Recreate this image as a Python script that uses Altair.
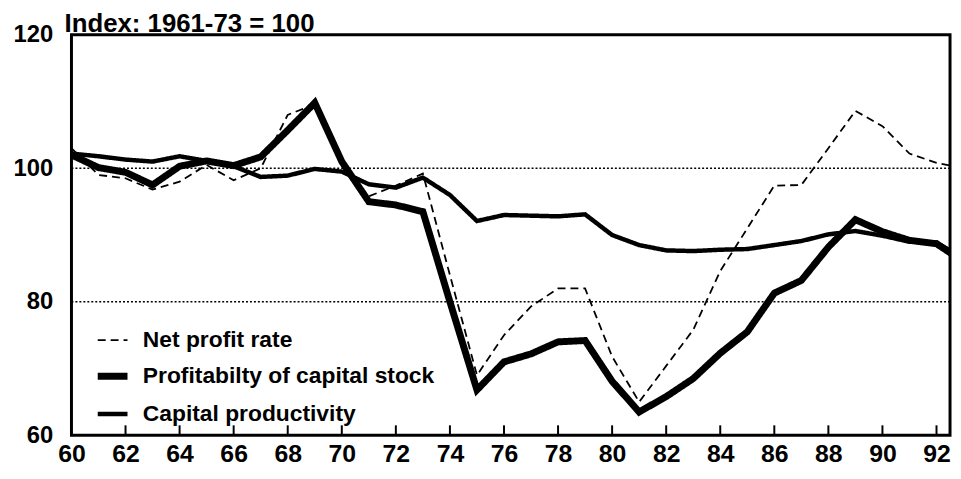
import altair as alt
import pandas as pd

years = list(range(60, 94))
net_profit = [103, 99, 98.5, 96.8, 98, 100.5, 98.2, 100, 108, 109.6, 100.5, 95.8, 97.4, 99.2,
              84, 69, 75, 79.3, 82, 82, 71.8, 65, 70.4, 75.8, 84.6, 91, 97.4, 97.5,
              103, 108.6, 106.3, 102.2, 100.8, 100]
profitability = [102, 100.1, 99.4, 97.5, 100.3, 101.1, 100.4, 101.7, 105.7, 109.8, 101, 95, 94.5, 93.5,
                 80, 66.8, 71, 72.2, 74, 74.2, 68.1, 63.5, 65.8, 68.5, 72.3, 75.5, 81.3, 83.2,
                 88.2, 92.3, 90.5, 89.2, 88.7, 86]
capital_prod = [102.2, 101.8, 101.3, 101, 101.8, 101.1, 100.3, 98.7, 98.9, 99.9, 99.5, 97.6, 97.1, 98.6,
                96, 92.1, 93, 92.9, 92.8, 93.1, 90, 88.5, 87.7, 87.6, 87.8, 87.9, 88.5, 89.1,
                90.1, 90.6, 89.9, 89, 88.9, 86.4]

series_names = ["Net profit rate", "Profitabilty of capital stock", "Capital productivity"]
x_ticks = list(range(60, 93, 2))
y_ticks = [60, 80, 100, 120]
ref_lines = [80, 100]
tick_years = list(range(62, 93, 2))

rows = []
for name, vals in zip(series_names, [net_profit, profitability, capital_prod]):
    for yr, v in zip(years, vals):
        rows.append({"year": yr, "value": v, "series": name})
df = pd.DataFrame(rows)

FONT = "Liberation Sans"

xscale = alt.Scale(domain=[60, 92.5], nice=False, zero=False)
yscale = alt.Scale(domain=[60, 120], nice=False, zero=False)

leg = dict(title=None, orient="none", legendX=23, legendY=292,
           symbolType="stroke", symbolSize=900, labelFontSize=23, labelFontWeight="bold",
           labelFont=FONT, labelColor="black", labelOffset=12, labelLimit=500,
           rowPadding=6, padding=0, symbolStrokeColor="black")

lines = alt.Chart(df).mark_line(clip=True, strokeJoin="miter").encode(
    x=alt.X("year:Q", scale=xscale,
            axis=alt.Axis(values=x_ticks, title=None, ticks=False, domain=False, grid=False,
                          labelFontSize=25, labelFontWeight="bold", labelFont=FONT,
                          labelColor="black", labelPadding=6, labelFlush=False)),
    y=alt.Y("value:Q", scale=yscale,
            axis=alt.Axis(values=y_ticks, title=None, ticks=False, domain=False, grid=False,
                          labelFontSize=24, labelFontWeight="bold", labelFont=FONT,
                          labelColor="black", labelPadding=19, labelFlush=False)),
    color=alt.Color("series:N", sort=series_names,
                    scale=alt.Scale(type="ordinal", domain=series_names, range=["black", "black", "black"]),
                    legend=alt.Legend(**leg)),
    strokeDash=alt.StrokeDash("series:N", sort=series_names,
                              scale=alt.Scale(type="ordinal", domain=series_names,
                                              range=[[8, 5], [1, 0], [1, 0]]),
                              legend=alt.Legend(**leg)),
    strokeWidth=alt.StrokeWidth("series:N", sort=series_names,
                                scale=alt.Scale(type="ordinal", domain=series_names, range=[1.8, 7, 4.5]),
                                legend=alt.Legend(**leg)),
)

refs = alt.Chart(pd.DataFrame({"v": ref_lines})).mark_rule(
    color="black", strokeDash=[2, 2], strokeWidth=1.5
).encode(y=alt.Y("v:Q", scale=yscale))

ticks = alt.Chart(pd.DataFrame({"t": tick_years, "y0": [60] * len(tick_years),
                                "y1": [61.5] * len(tick_years)})).mark_rule(
    color="black", strokeWidth=2
).encode(x=alt.X("t:Q", scale=xscale), y=alt.Y("y0:Q", scale=yscale), y2="y1:Q")

chart = alt.layer(refs, ticks, lines).properties(
    width=886, height=404,
    autosize=alt.AutoSizeParams(type="none"),
    padding={"left": 64, "top": 25, "right": 3, "bottom": 34},
    background="white",
    title=alt.TitleParams("Index: 1961-73 = 100", anchor="start", frame="group", dx=-7, dy=17,
                          fontSize=26, font=FONT, fontWeight="bold", color="black", offset=3),
).configure_view(stroke="black", strokeWidth=3)

chart.save("out.html", embed_options={"renderer": "svg", "actions": False})
